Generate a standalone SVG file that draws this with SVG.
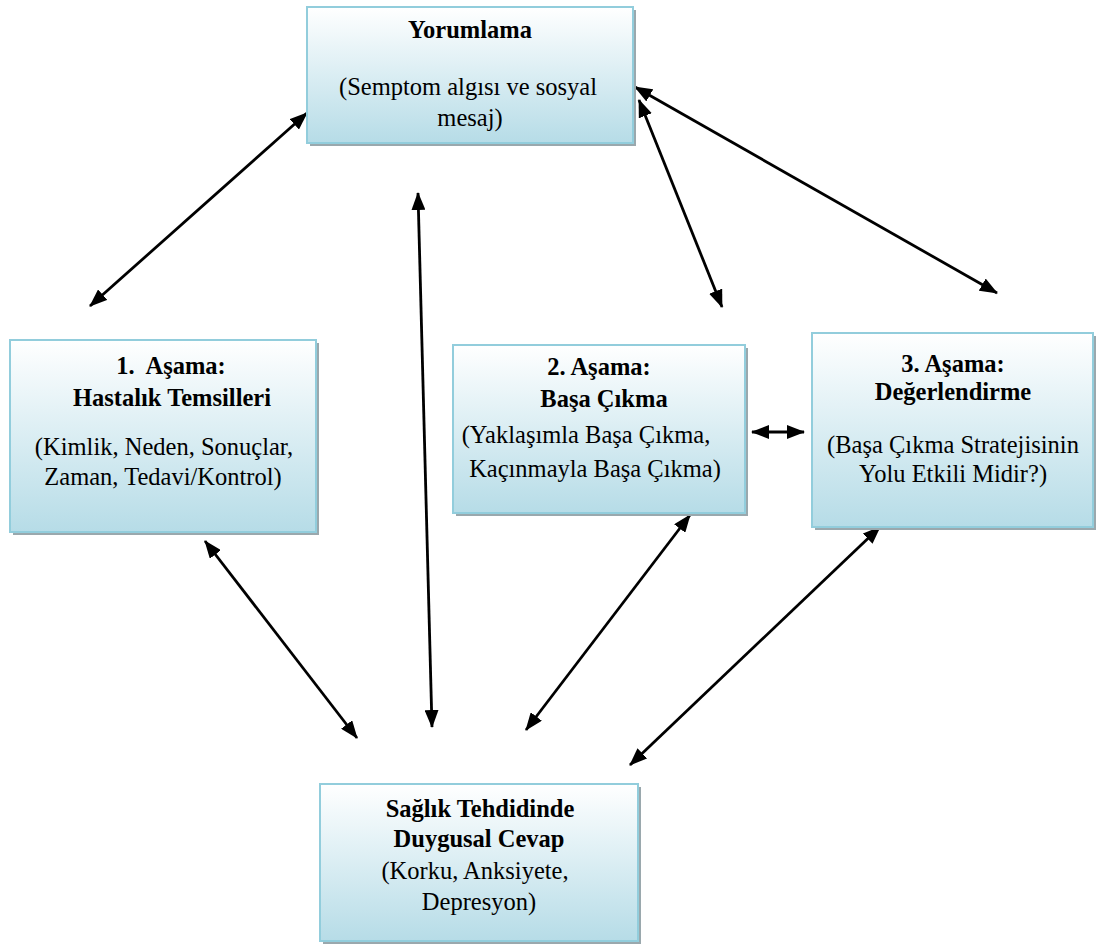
<svg xmlns="http://www.w3.org/2000/svg" width="1097" height="944" viewBox="0 0 1097 944">
<style>
.box{fill:url(#g);stroke:#92cddc;stroke-width:2}
.sh{fill:#9aa8ad}
text{font-family:'Liberation Serif','DejaVu Serif',serif;font-size:24.5px;fill:#000;text-anchor:middle}
.b{font-weight:bold}
.c{stroke:#000;stroke-width:2.8;fill:none;marker-start:url(#a);marker-end:url(#a)}
</style>
<defs>
<linearGradient id="g" x1="0" y1="0" x2="0" y2="1">
<stop offset="0" stop-color="#ffffff"/>
<stop offset="1" stop-color="#b6dce7"/>
</linearGradient>
<marker id="a" viewBox="0 0 18 14" refX="17" refY="7" markerWidth="18" markerHeight="14" markerUnits="userSpaceOnUse" orient="auto-start-reverse">
<path d="M0,0 L18,7 L0,14 Z" fill="#000"/>
</marker>
</defs>
<rect width="1097" height="944" fill="#fff"/>
<g id="connectors">
<line class="c" x1="90" y1="306" x2="307" y2="113"/>
<line class="c" x1="418" y1="193" x2="432" y2="727"/>
<line class="c" x1="997" y1="293" x2="635" y2="87"/>
<line class="c" x1="722" y1="307" x2="639" y2="100"/>
<line class="c" x1="752" y1="432" x2="804" y2="432"/>
<line class="c" x1="205" y1="541" x2="357" y2="738"/>
<line class="c" x1="690" y1="515" x2="526" y2="730"/>
<line class="c" x1="880" y1="527" x2="630" y2="765"/>
</g>
<g id="yorumlama">
<rect class="sh" x="310" y="10" width="326" height="136"/>
<rect class="box" x="307" y="7" width="326" height="136"/>
<text class="b" x="470" y="38">Yorumlama</text>
<text x="468" y="95">(Semptom algısı ve sosyal</text>
<text x="470" y="126">mesaj)</text>
</g>
<g id="asama1">
<rect class="sh" x="13" y="343" width="306" height="192"/>
<rect class="box" x="10" y="340" width="306" height="192"/>
<text class="b" x="171" y="374" xml:space="preserve">1.  Aşama:</text>
<text class="b" x="172" y="406">Hastalık Temsilleri</text>
<text x="164" y="455">(Kimlik, Neden, Sonuçlar,</text>
<text x="163" y="485">Zaman, Tedavi/Kontrol)</text>
</g>
<g id="asama2">
<rect class="sh" x="456" y="348" width="292" height="168"/>
<rect class="box" x="453" y="345" width="292" height="168"/>
<text class="b" x="599" y="375">2. Aşama:</text>
<text class="b" x="604" y="407">Başa Çıkma</text>
<text x="586" y="443">(Yaklaşımla Başa Çıkma,</text>
<text x="595" y="477">Kaçınmayla Başa Çıkma)</text>
</g>
<g id="asama3">
<rect class="sh" x="815" y="336" width="281" height="194"/>
<rect class="box" x="812" y="333" width="281" height="194"/>
<text class="b" x="953" y="372">3. Aşama:</text>
<text class="b" x="953" y="400">Değerlendirme</text>
<text x="953" y="453">(Başa Çıkma Stratejisinin</text>
<text x="953" y="482">Yolu Etkili Midir?)</text>
</g>
<g id="duygusal">
<rect class="sh" x="323" y="787" width="318" height="157"/>
<rect class="box" x="320" y="784" width="318" height="157"/>
<text class="b" x="480" y="817">Sağlık Tehdidinde</text>
<text class="b" x="479" y="847">Duygusal Cevap</text>
<text x="475" y="879">(Korku, Anksiyete,</text>
<text x="479" y="910">Depresyon)</text>
</g>
</svg>
